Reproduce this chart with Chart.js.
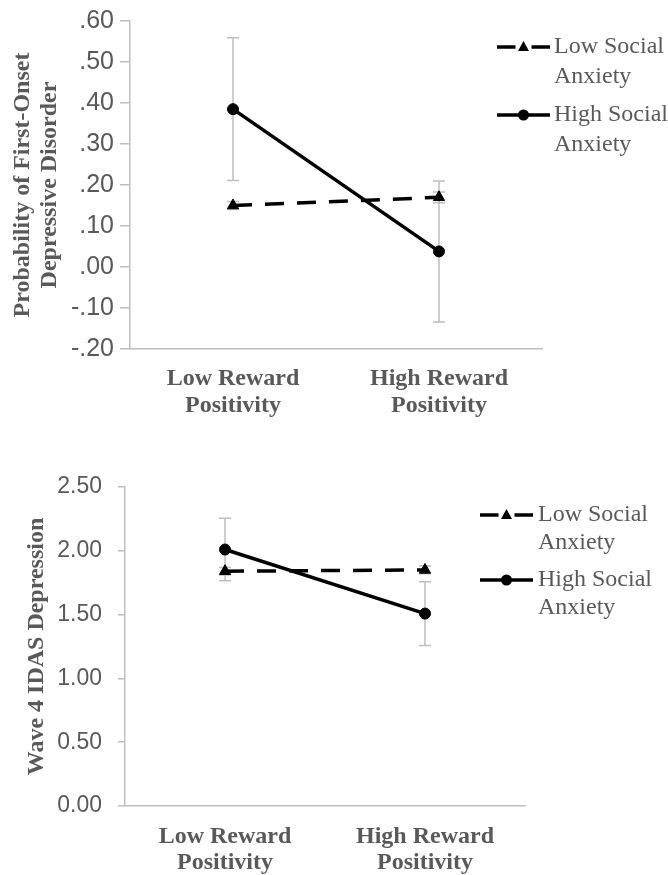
<!DOCTYPE html>
<html>
<head>
<meta charset="utf-8">
<script src="https://cdn.jsdelivr.net/npm/chart.js@4.4.1/dist/chart.umd.min.js"></script>
<style>
  html, body { margin: 0; padding: 0; background: #ffffff; }
  body { width: 668px; height: 875px; position: relative; overflow: hidden; }
  canvas { position: absolute; left: 0; }
  #c1 { top: 0; }
  #c2 { top: 430px; }
</style>
</head>
<body>
<canvas id="c1" width="668" height="430"></canvas>
<canvas id="c2" width="668" height="445"></canvas>
<script>
// ---------- data ----------
const categories = [['Low Reward', 'Positivity'], ['High Reward', 'Positivity']];
const seriesNames = [['Low Social', 'Anxiety'], ['High Social', 'Anxiety']];

// Chart 1: Probability of first-onset depressive disorder
const onsetTitle = ['Probability of First-Onset', 'Depressive Disorder'];
const onsetLowSA = [0.150, 0.170];
const onsetHighSA = [0.385, 0.038];
const onsetLowSAErr = [0.010, 0.013];
const onsetHighSAErr = [0.174, 0.172];
const onsetTicks = { min: -0.2, max: 0.6, step: 0.1 };

// Chart 2: Wave 4 IDAS depression
const idasTitle = 'Wave 4 IDAS Depression';
const idasLowSA = [1.840, 1.850];
const idasHighSA = [2.010, 1.508];
const idasLowSAErr = [0.030, 0.030];
const idasHighSAErr = [0.245, 0.250];
const idasTicks = { min: 0, max: 2.5, step: 0.5 };

// ---------- styling ----------
const GRAY_TEXT = '#595959';
const AXIS_GRAY = '#bfbfbf';
const ERR_GRAY = '#bfbfbf';
const SERIF = "'Liberation Serif', 'Times New Roman', serif";
const SANS = "'Liberation Sans', Arial, sans-serif";

const errorBarPlugin = {
  id: 'errorBars',
  beforeDatasetsDraw(chart) {
    const ctx = chart.ctx;
    const y = chart.scales.y;
    chart.data.datasets.forEach((ds, i) => {
      const meta = chart.getDatasetMeta(i);
      if (!ds.errorBars) return;
      meta.data.forEach((pt, j) => {
        const v = ds.data[j], e = ds.errorBars[j];
        const yt = y.getPixelForValue(v + e);
        const yb = y.getPixelForValue(v - e);
        ctx.save();
        ctx.strokeStyle = ERR_GRAY;
        ctx.lineWidth = 1.5;
        ctx.beginPath();
        ctx.moveTo(pt.x, yt); ctx.lineTo(pt.x, yb);
        ctx.moveTo(pt.x - 6, yt); ctx.lineTo(pt.x + 6, yt);
        ctx.moveTo(pt.x - 6, yb); ctx.lineTo(pt.x + 6, yb);
        ctx.stroke();
        ctx.restore();
      });
    });
  }
};

const legendPlugin = {
  id: 'customLegend',
  afterDraw(chart, args, opts) {
    const ctx = chart.ctx;
    ctx.save();
    chart.data.datasets.forEach((ds, i) => {
      const it = opts.items[i];
      const cy = it.y;
      ctx.strokeStyle = '#000';
      ctx.lineWidth = 3.5;
      ctx.setLineDash([]);
      ctx.beginPath();
      const mid = (opts.x0 + opts.x1) / 2;
      if (ds.pointStyle === 'triangle') {
        ctx.moveTo(opts.x0, cy); ctx.lineTo(mid - 8, cy);
        ctx.moveTo(mid + 8, cy); ctx.lineTo(opts.x1, cy);
      } else {
        ctx.moveTo(opts.x0, cy); ctx.lineTo(opts.x1, cy);
      }
      ctx.stroke();
      ctx.fillStyle = '#000';
      ctx.beginPath();
      if (ds.pointStyle === 'triangle') {
        ctx.moveTo(mid, cy - 6);
        ctx.lineTo(mid + 5.5, cy + 4);
        ctx.lineTo(mid - 5.5, cy + 4);
        ctx.closePath();
      } else {
        ctx.arc(mid, cy, 5.5, 0, Math.PI * 2);
      }
      ctx.fill();
      ctx.fillStyle = GRAY_TEXT;
      ctx.font = '24px ' + SERIF;
      ctx.textAlign = 'left';
      ctx.textBaseline = 'middle';
      seriesNames[i].forEach((line, k) => {
        ctx.fillText(line, opts.textX, cy + k * opts.lineGap);
      });
    });
    ctx.restore();
  }
};

function buildChart(canvasId, cfg) {
  const datasets = [
    {
      label: seriesNames[0].join(' '),
      data: cfg.lowSA,
      errorBars: cfg.lowSAErr,
      borderColor: '#000',
      borderWidth: 3.5,
      borderDash: [19, 13],
      pointStyle: 'triangle',
      pointRadius: 6.5,
      pointBorderWidth: 1,
      pointBackgroundColor: '#000',
      pointBorderColor: '#000',
      fill: false,
      tension: 0
    },
    {
      label: seriesNames[1].join(' '),
      data: cfg.highSA,
      errorBars: cfg.highSAErr,
      borderColor: '#000',
      borderWidth: 3.5,
      pointStyle: 'circle',
      pointRadius: 5.5,
      pointBorderWidth: 1,
      pointBackgroundColor: '#000',
      pointBorderColor: '#000',
      fill: false,
      tension: 0
    }
  ];
  return new Chart(document.getElementById(canvasId), {
    type: 'line',
    data: { labels: categories, datasets },
    options: {
      responsive: false,
      animation: false,
      devicePixelRatio: 1,
      events: [],
      layout: { padding: { top: cfg.padTop, right: cfg.padRight, left: 0, bottom: 0 } },
      plugins: {
        legend: { display: false },
        tooltip: { enabled: false },
        customLegend: cfg.legend
      },
      scales: {
        x: {
          type: 'category',
          offset: true,
          grid: { display: false, drawTicks: false },
          border: { display: true, color: AXIS_GRAY, width: 1.5 },
          ticks: {
            color: GRAY_TEXT,
            font: { family: SERIF, size: 24, weight: 'bold', lineHeight: cfg.xLineHeight },
            padding: cfg.xPad,
            maxRotation: 0,
            autoSkip: false
          },
          afterFit(scale) { scale.height = cfg.xHeight; }
        },
        y: {
          min: cfg.ticks.min,
          max: cfg.ticks.max,
          grid: {
            display: true,
            drawOnChartArea: false,
            drawTicks: true,
            tickLength: cfg.tickLen,
            color: AXIS_GRAY,
            lineWidth: 1.5
          },
          border: { display: true, color: AXIS_GRAY, width: 1.5 },
          ticks: {
            stepSize: cfg.ticks.step,
            color: GRAY_TEXT,
            padding: cfg.yPad,
            font: { family: SANS, size: cfg.tickSize },
            callback: cfg.fmt
          },
          title: {
            display: true,
            text: cfg.title,
            color: GRAY_TEXT,
            font: { family: SERIF, size: 24, weight: 'bold', lineHeight: 1.125 },
            padding: { top: cfg.titlePad, bottom: 0 }
          },
          afterFit(scale) { scale.width = cfg.yWidth; }
        }
      }
    },
    plugins: [errorBarPlugin, legendPlugin]
  });
}

buildChart('c1', {
  lowSA: onsetLowSA, highSA: onsetHighSA,
  lowSAErr: onsetLowSAErr, highSAErr: onsetHighSAErr,
  ticks: onsetTicks,
  title: onsetTitle,
  fmt: (v) => Number(v).toFixed(2).replace(/^(-?)0\./, '$1.'),
  padTop: 21, padRight: 126, yWidth: 130, xHeight: 81,
  xPad: 15.5, xLineHeight: 1.15, tickLen: 10, yPad: 6, tickSize: 25, titlePad: 9,
  legend: { x0: 497, x1: 550, textX: 554, lineGap: 30, items: [{ y: 47 }, { y: 115 }] }
});

buildChart('c2', {
  lowSA: idasLowSA, highSA: idasHighSA,
  lowSAErr: idasLowSAErr, highSAErr: idasHighSAErr,
  ticks: idasTicks,
  title: idasTitle,
  fmt: (v) => Number(v).toFixed(2),
  padTop: 57, padRight: 143, yWidth: 125, xHeight: 69,
  xPad: 17.5, xLineHeight: 1.08, tickLen: 7, yPad: 16, tickSize: 23, titlePad: 23.5,
  legend: { x0: 480, x1: 533, textX: 538, lineGap: 28, items: [{ y: 85 }, { y: 150 }] }
});
</script>
</body>
</html>
